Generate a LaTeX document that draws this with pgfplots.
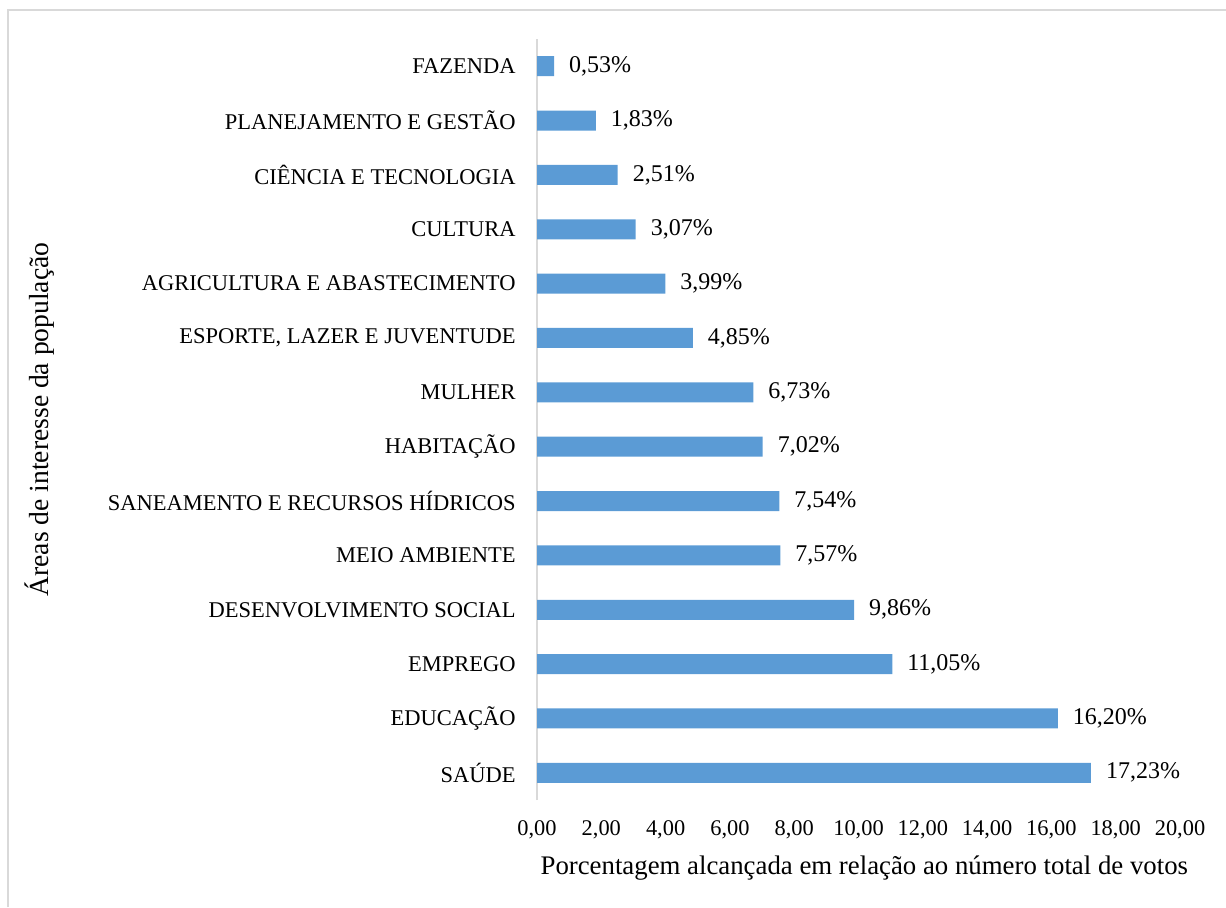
\documentclass[border=0pt]{standalone}
\usepackage{pgfplots}
\pgfplotsset{compat=1.18}
\usepackage{fontspec}
\setmainfont{Liberation Serif}
\definecolor{barblue}{HTML}{5B9BD5}
\definecolor{framegray}{HTML}{D9D9D9}
\begin{document}
\begin{tikzpicture}
\useasboundingbox (0,0) rectangle (613pt,453.5pt);
\draw[framegray, line width=1pt] (3.75pt,0) -- (3.75pt,448.25pt) -- (613pt,448.25pt);
\begin{axis}[
  at={(268.5pt,53.5pt)}, anchor=south west,
  scale only axis, width=321.5pt, height=380.5pt,
  xbar, bar width=10pt,
  xmin=0, xmax=20, ymin=-0.5, ymax=13.5,
  axis lines*=left,
  x axis line style={draw=none},
  y axis line style={framegray, line width=1pt},
  major tick length=0pt,
  xtick={0,2,...,20},
  ytick={0,...,13},
  yticklabels={SAÚDE, EDUCAÇÃO, EMPREGO, DESENVOLVIMENTO SOCIAL, MEIO AMBIENTE, SANEAMENTO E RECURSOS HÍDRICOS, HABITAÇÃO, MULHER, {ESPORTE, LAZER E JUVENTUDE}, AGRICULTURA E ABASTECIMENTO, CULTURA, CIÊNCIA E TECNOLOGIA, PLANEJAMENTO E GESTÃO, FAZENDA},
  font=\fontsize{11}{13}\selectfont,
  /pgf/number format/assume math mode=true,
  xticklabel style={/pgf/number format/fixed, /pgf/number format/fixed zerofill, /pgf/number format/precision=2, /pgf/number format/use comma, anchor=center, yshift=-15pt, font=\fontsize{11.2}{13}\selectfont},
  scaled x ticks=false,
  yticklabel style={anchor=east, inner xsep=0pt, xshift=-10.5pt, font=\fontsize{11.25}{13}\selectfont},
  xlabel={Porcentagem alcançada em relação ao número total de votos},
  xlabel style={at={(axis description cs:0.509,-0.089)}, anchor=center, font=\fontsize{13.4}{15}\selectfont},
  ylabel={Áreas de interesse da população},
  ylabel style={at={(axis description cs:-0.773,0.5)}, rotate=0, anchor=center, font=\fontsize{13.8}{15}\selectfont},
  point meta=explicit symbolic,
  nodes near coords,
  every node near coord/.append style={anchor=west, xshift=4pt, font=\fontsize{12}{14}\selectfont},
]
\addplot[fill=barblue, draw=none] table[meta=lab] {
x y lab
17.23 0 17,23\%
16.20 1 16,20\%
11.05 2 11,05\%
9.86 3 9,86\%
7.57 4 7,57\%
7.54 5 7,54\%
7.02 6 7,02\%
6.73 7 6,73\%
4.85 8 4,85\%
3.99 9 3,99\%
3.07 10 3,07\%
2.51 11 2,51\%
1.83 12 1,83\%
0.53 13 0,53\%
};
\end{axis}
\end{tikzpicture}
\end{document}
